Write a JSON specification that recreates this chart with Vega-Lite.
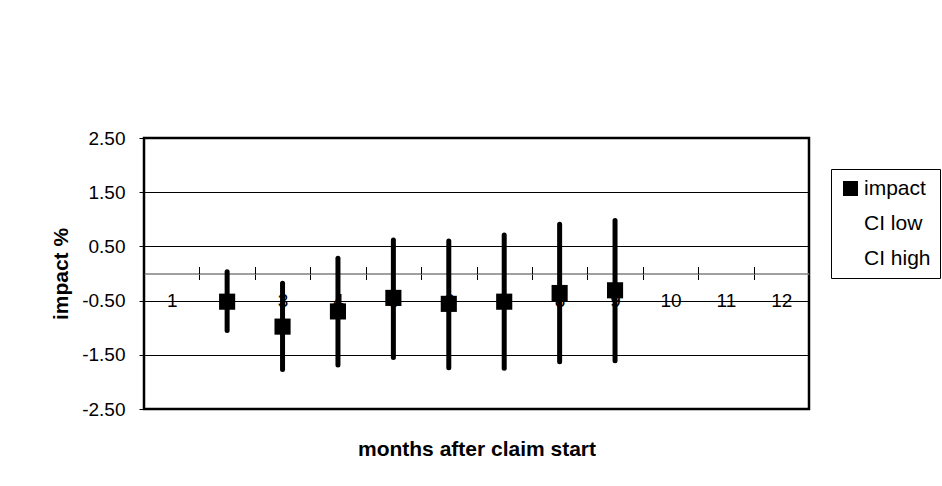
{
  "$schema": "https://vega.github.io/schema/vega-lite/v6.json",
  "width": 665,
  "height": 271,
  "autosize": {"type": "none"},
  "padding": {"left": 144, "top": 138, "right": 133, "bottom": 77},
  "background": "white",
  "view": {"stroke": "black", "strokeWidth": 2.5},
  "config": {
    "font": "Liberation Sans",
    "axis": {
      "labelFont": "Liberation Sans",
      "titleFont": "Liberation Sans",
      "labelColor": "black",
      "titleColor": "black"
    }
  },
  "data": {
    "values": [
      {"month": "2", "impact": -0.52, "ci_low": -1.05, "ci_high": 0.03},
      {"month": "3", "impact": -0.98, "ci_low": -1.77, "ci_high": -0.18},
      {"month": "4", "impact": -0.70, "ci_low": -1.69, "ci_high": 0.28},
      {"month": "5", "impact": -0.45, "ci_low": -1.55, "ci_high": 0.62},
      {"month": "6", "impact": -0.56, "ci_low": -1.74, "ci_high": 0.60},
      {"month": "7", "impact": -0.52, "ci_low": -1.75, "ci_high": 0.71},
      {"month": "8", "impact": -0.36, "ci_low": -1.63, "ci_high": 0.91},
      {"month": "9", "impact": -0.31, "ci_low": -1.61, "ci_high": 0.98}
    ]
  },
  "layer": [
    {
      "mark": {"type": "rule", "strokeWidth": 5, "strokeCap": "round", "color": "black"},
      "encoding": {
        "x": {
          "field": "month",
          "type": "ordinal",
          "scale": {"type": "band", "domain": ["1", "2", "3", "4", "5", "6", "7", "8", "9", "10", "11", "12"], "paddingInner": 0, "paddingOuter": 0},
          "axis": {
            "orient": "bottom",
            "offset": -135.5,
            "title": "months after claim start",
            "titleFontSize": 21,
            "titleFontWeight": "bold",
            "titleY": 181.5,
            "titleBaseline": "alphabetic",
            "domainColor": "#808080",
            "domainWidth": 1.5,
            "tickColor": "black",
            "tickSize": 6,
            "tickWidth": 1,
            "tickBand": "extent",
            "labelAngle": 0,
            "labelFontSize": 19,
            "labelPadding": 12,
            "labelBaseline": "top",
            "grid": false
          }
        },
        "y": {
          "field": "ci_low",
          "type": "quantitative",
          "scale": {"domain": [-2.5, 2.5], "nice": false, "zero": false},
          "axis": {
            "title": "impact %",
            "values": [-2.5, -1.5, -0.5, 0.5, 1.5, 2.5],
            "format": ".2f",
            "labelExpr": "replace(datum.label, '\u2212', '-')",
            "grid": true,
            "gridColor": "black",
            "gridWidth": 1,
            "gridOpacity": 1,
            "domain": false,
            "tickColor": "black",
            "tickSize": 5,
            "tickWidth": 1,
            "labelFontSize": 19,
            "labelPadding": 14,
            "labelFlush": false,
            "labelOverlap": false,
            "titleFontSize": 21,
            "titleFontWeight": "bold",
            "titlePadding": 10
          }
        },
        "y2": {"field": "ci_high"}
      }
    },
    {
      "mark": {"type": "point", "shape": "square", "filled": true, "size": 260, "opacity": 1},
      "encoding": {
        "x": {
          "field": "month",
          "type": "ordinal",
          "scale": {"type": "band", "domain": ["1", "2", "3", "4", "5", "6", "7", "8", "9", "10", "11", "12"], "paddingInner": 0, "paddingOuter": 0},
          "axis": {
            "orient": "top",
            "offset": -135.5,
            "title": null,
            "labels": false,
            "domain": false,
            "tickColor": "black",
            "tickSize": 7,
            "tickWidth": 1,
            "tickBand": "extent",
            "grid": false
          }
        },
        "y": {
          "field": "impact",
          "type": "quantitative",
          "scale": {"domain": [-2.5, 2.5], "nice": false, "zero": false},
          "axis": {
            "title": "impact %",
            "values": [-2.5, -1.5, -0.5, 0.5, 1.5, 2.5],
            "format": ".2f",
            "labelExpr": "replace(datum.label, '\u2212', '-')",
            "grid": true,
            "gridColor": "black",
            "gridWidth": 1,
            "gridOpacity": 1,
            "domain": false,
            "tickColor": "black",
            "tickSize": 5,
            "tickWidth": 1,
            "labelFontSize": 19,
            "labelPadding": 14,
            "labelFlush": false,
            "labelOverlap": false,
            "titleFontSize": 21,
            "titleFontWeight": "bold",
            "titlePadding": 10
          }
        },
        "color": {
          "datum": "impact",
          "scale": {"domain": ["impact", "CI low", "CI high"], "range": ["black", "white", "white"]},
          "legend": {
            "orient": "none",
            "legendX": 687,
            "legendY": 31,
            "title": null,
            "strokeColor": "black",
            "fillColor": "white",
            "padding": 9,
            "symbolType": "square",
            "symbolSize": 225,
            "symbolStrokeWidth": 0,
            "symbolOpacity": 1,
            "labelFont": "Liberation Sans",
            "labelFontSize": 21,
            "labelColor": "black",
            "labelOffset": 3,
            "rowPadding": 13
          }
        }
      }
    }
  ],
  "resolve": {"axis": {"x": "independent"}}
}
